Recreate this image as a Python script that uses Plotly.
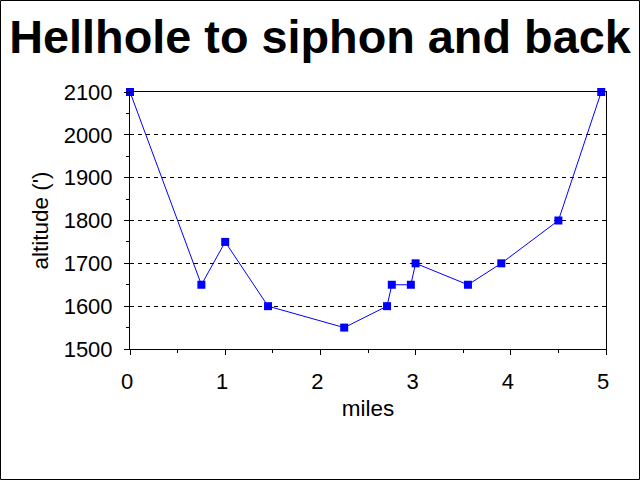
import plotly.graph_objects as go

miles = [0, 0.75, 1.0, 1.45, 2.25, 2.7, 2.75, 2.95, 3.0, 3.55, 3.9, 4.5, 4.95]
altitude = [2100, 1650, 1750, 1600, 1550, 1600, 1650, 1650, 1700, 1650, 1700, 1800, 2100]

title_text = "Hellhole to siphon and back"
x_title = "miles"
y_title = "altitude (')"

FONT = "Liberation Sans, Arial, sans-serif"

fig = go.Figure()
fig.add_trace(go.Scatter(
    x=miles, y=altitude, mode="lines+markers",
    line=dict(color="#0000FF", width=1),
    marker=dict(symbol="square", size=8, color="#0000FF", line=dict(width=0)),
    cliponaxis=False, showlegend=False,
))

L, R, T, B = 130, 34, 92, 131
W, H = 640, 480
pw, ph = W - L - R, H - T - B

fig.update_layout(
    width=W, height=H,
    margin=dict(l=L, r=R, t=T, b=B),
    paper_bgcolor="white", plot_bgcolor="white",
    font=dict(family=FONT, color="black", size=22),
    title=dict(text="<b>" + title_text + "</b>", x=0.5, xanchor="center",
               y=1 - 37 / H, yanchor="middle",
               font=dict(family=FONT, size=46.8, color="black")),
    xaxis=dict(
        range=[0, 5], dtick=1, tick0=0,
        showline=True, linecolor="black", linewidth=1, mirror=True,
        ticks="outside", ticklen=5, tickcolor="black", tickwidth=1,
        minor=dict(dtick=0.5, ticks="outside", ticklen=3, tickcolor="black", showgrid=False),
        showgrid=False, zeroline=False,
        tickfont=dict(size=22),
        ticklabelstandoff=8, ticklabelshift=-3,
        title=dict(text=x_title, font=dict(size=22.5), standoff=6),
    ),
    yaxis=dict(
        range=[1500, 2100], dtick=100, tick0=1500,
        showline=True, linecolor="black", linewidth=1, mirror=True,
        ticks="outside", ticklen=5, tickcolor="black", tickwidth=1,
        minor=dict(dtick=50, ticks="outside", ticklen=3, tickcolor="black", showgrid=False),
        showgrid=True, gridcolor="black", gridwidth=1, griddash="4px,4px",
        zeroline=False,
        tickfont=dict(size=22),
        ticklabelstandoff=7,
        title=dict(text=y_title, font=dict(size=22.5), standoff=8),
    ),
)

# outer frame around the whole image
fig.add_shape(
    type="rect", xref="paper", yref="paper",
    x0=(0.5 - L) / pw, x1=(W - 0.5 - L) / pw,
    y0=(H - B - (H - 0.5)) / ph, y1=(H - B - 0.5) / ph,
    line=dict(color="black", width=1), fillcolor="rgba(0,0,0,0)",
)

fig.write_html(
    "out.html",
    config={"displayModeBar": False},
    post_script="document.body.style.margin='0';document.body.style.overflow='hidden';",
)
